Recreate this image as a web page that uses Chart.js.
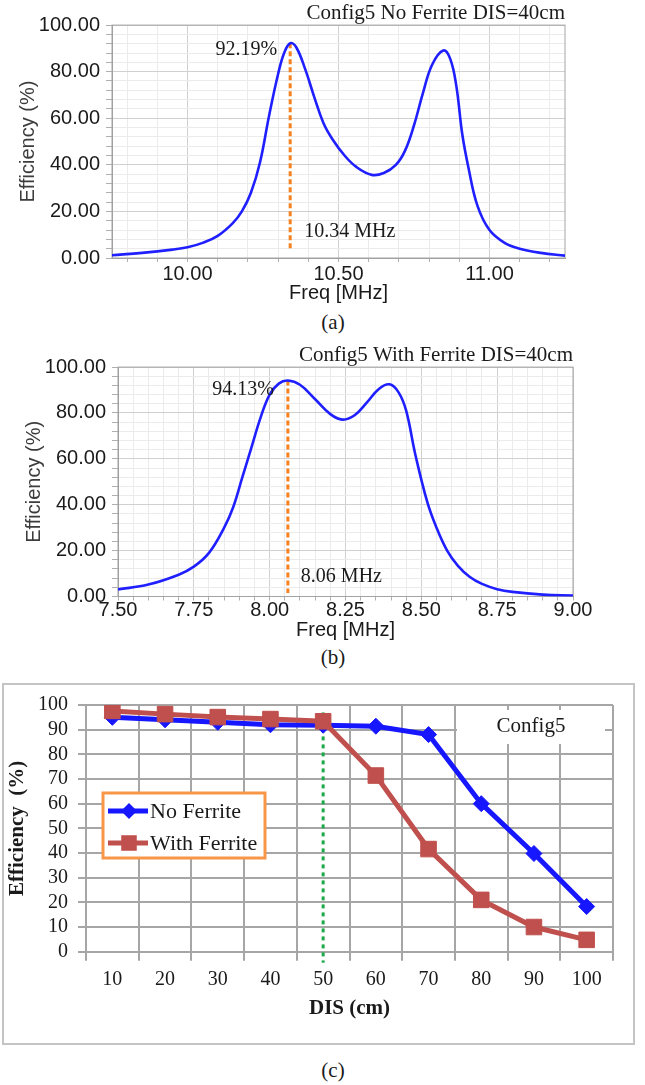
<!DOCTYPE html>
<html>
<head>
<meta charset="utf-8">
<script src="https://cdn.jsdelivr.net/npm/chart.js@4.4.1/dist/chart.umd.min.js"></script>
<style>
  body { margin: 0; background: #fff; }
  #page { position: relative; width: 645px; height: 1085px; overflow: hidden; }
  .wrap { position: absolute; left: 0; width: 645px; }
  .cap { position: absolute; left: 300px; width: 66px; text-align: center; line-height: 24px;
         font: 21px "Liberation Serif", "Times New Roman", serif; color: #1a1a1a; }
  #boxC { position: absolute; left: 2px; top: 683px; width: 633px; height: 362px;
          border: 2px solid #c4c4c4; box-sizing: border-box; }
</style>
</head>
<body>
<div id="page">
  <div class="wrap" style="top:2px;height:308px"><canvas id="chartA"></canvas></div>
  <div class="cap" style="top:310px">(a)</div>

  <div class="wrap" style="top:344px;height:301px"><canvas id="chartB"></canvas></div>
  <div class="cap" style="top:645px">(b)</div>

  <div id="boxC"></div>
  <div class="wrap" style="top:683px;height:362px"><canvas id="chartC"></canvas></div>
  <div class="cap" style="top:1058px">(c)</div>
</div>

<script>
// ---- (a) Config5, no ferrite, DIS = 40 cm ----
const FREQ_A = [9.75, 9.85, 9.95, 10.00, 10.05, 10.10, 10.15, 10.18, 10.21, 10.24, 10.27, 10.30, 10.32, 10.34,
                10.36, 10.39, 10.42, 10.45, 10.48, 10.52, 10.56, 10.61, 10.65, 10.69, 10.72, 10.75, 10.78, 10.81,
                10.847, 10.87, 10.89, 10.91, 10.93, 10.96, 11.00, 11.05, 11.10, 11.17, 11.25];
const EFF_A = [1.2, 2.2, 3.6, 4.6, 6.5, 9.5, 15, 20, 28, 41, 61, 79, 88, 92.19,
               90.5, 81, 69, 58, 51, 44, 39, 35.7, 36.5, 40, 46, 57, 71, 83,
               89.1, 85.5, 74, 53, 39, 22.5, 12, 6.5, 4, 2.2, 1];
const PEAK_A = [10.34, 92.19];
const MARK_END_A = 3;
const X_LABELS_A = [10.00, 10.50, 11.00];

// ---- (b) Config5, with ferrite, DIS = 40 cm ----
const FREQ_B = [7.50, 7.60, 7.70, 7.75, 7.80, 7.85, 7.88, 7.91, 7.94, 7.97, 8.00, 8.03, 8.06, 8.10, 8.15,
                8.20, 8.24, 8.28, 8.32, 8.36, 8.395, 8.425, 8.45, 8.48, 8.52, 8.55, 8.585, 8.62, 8.66,
                8.70, 8.75, 8.80, 8.90, 9.00];
const EFF_B = [3.1, 5.2, 9.5, 13, 19, 30, 39, 52, 65, 78, 88, 92.8, 94.13, 92.3, 86,
               79.5, 77.1, 79, 84.5, 90.5, 92.5, 89, 81, 62, 41, 30, 20, 13.5, 8.5,
               5.5, 3.2, 2, 0.8, 0.4];
const PEAK_B = [8.06, 94.13];
const MARK_END_B = 1.5;
const X_LABELS_B = [7.50, 7.75, 8.00, 8.25, 8.50, 8.75, 9.00];

const Y_LABELS_AB = [0, 20, 40, 60, 80, 100];

// ---- (c) efficiency vs distance ----
const DIS = ['10', '20', '30', '40', '50', '60', '70', '80', '90', '100'];
const NO_FERRITE = [95, 94, 93, 92, 91.8, 91.4, 88, 60, 39.8, 18.3];
const WITH_FERRITE = [97.6, 96.3, 95.1, 94.3, 93.4, 71.4, 41.6, 21, 10, 4.8];
const MARK_DIS = '50';

const SANS = '"Liberation Sans", Arial, sans-serif';
const SERIF = '"Liberation Serif", "Times New Roman", serif';

// grid positions between min and max
function steps(min, max, step) {
    const out = [];
    for (let v = min; v <= max + 1e-9; v += step) out.push(+v.toFixed(4));
    return out;
}
const near = (list, v) => list.some(t => Math.abs(t - v) < 1e-6);

// thin frame around the plot area
const frame = {
    id: 'frame',
    beforeDatasetsDraw(chart) {
        const {ctx, chartArea: a} = chart;
        ctx.save();
        ctx.strokeStyle = '#a4a4a4';
        ctx.lineWidth = 1;
        ctx.strokeRect(a.left, a.top, a.width, a.height);
        ctx.restore();
    }
};

// "92.19%" and "10.34 MHz" next to the marker
const peakText = {
    id: 'peakText',
    afterDatasetsDraw(chart, args, opts) {
        const {ctx, chartArea, scales: {x, y}} = chart;
        const px = x.getPixelForValue(opts.peak[0]);
        const py = y.getPixelForValue(opts.peak[1]);
        ctx.save();
        ctx.font = '20px ' + SERIF;
        ctx.fillStyle = '#1a1a1a';
        ctx.textBaseline = 'middle';
        ctx.textAlign = 'right';
        ctx.fillText(opts.peak[1].toFixed(2) + '%', px - opts.pctDx, py + opts.pctDy);
        ctx.textAlign = 'left';
        ctx.fillText(opts.peak[0].toFixed(2) + ' MHz', px + opts.mhzDx, chartArea.bottom - opts.mhzUp);
        ctx.restore();
    }
};

const freqChart = (id, cfg) => {
    const curve = cfg.freq.map((f, i) => ({x: f, y: cfg.eff[i]}));
    const marker = [{x: cfg.peak[0], y: cfg.peak[1]}, {x: cfg.peak[0], y: cfg.markEnd}];
    const yGrid = steps(0, 100, 4);

    return new Chart(document.getElementById(id), {
        type: 'line',
        data: {
            datasets: [{
                data: curve,
                borderColor: '#1f1fff',
                borderWidth: 2.6,
                pointRadius: 0,
                tension: 0.4,
                order: 0
            }, {
                data: marker,
                borderColor: '#f5821f',
                borderWidth: 3,
                borderDash: [5, 3],
                pointRadius: 0,
                order: 1
            }]
        },
        options: {
            responsive: true,
            maintainAspectRatio: false,
            animation: false,
            layout: {padding: {left: 0, right: cfg.padRight, top: 0, bottom: 0}},
            plugins: {
                legend: {display: false},
                tooltip: {enabled: false},
                title: {
                    display: true,
                    text: cfg.title,
                    align: 'end',
                    color: '#1a1a1a',
                    padding: 0,
                    font: {family: SERIF, size: 21, weight: 'normal', lineHeight: 1.1}
                },
                peakText: cfg.peakText
            },
            scales: {
                x: {
                    type: 'linear',
                    min: cfg.xMin,
                    max: cfg.xMax,
                    afterBuildTicks: s => { s.ticks = cfg.xGrid.map(v => ({value: v})); },
                    afterFit: s => { s.height = cfg.xHeight; },
                    ticks: {
                        autoSkip: false,
                        maxRotation: 0,
                        padding: cfg.xTickPad,
                        color: '#1a1a1a',
                        font: {family: SANS, size: 20},
                        callback: v => near(cfg.xLabels, v) ? v.toFixed(2) : ''
                    },
                    grid: {
                        color: c => (c.tick && near(cfg.xLabels, c.tick.value)) ? '#d0d0d0' : '#ebebeb',
                        tickLength: 4,
                        tickColor: '#b0b0b0'
                    },
                    border: {color: '#9c9c9c'},
                    title: {
                        display: true,
                        text: 'Freq [MHz]',
                        color: '#1a1a1a',
                        font: {family: SANS, size: 20},
                        padding: {top: 0, bottom: cfg.xTitlePad}
                    }
                },
                y: {
                    min: 0,
                    max: 100,
                    afterBuildTicks: s => { s.ticks = yGrid.map(v => ({value: v})); },
                    afterFit: s => { s.width = cfg.yWidth; },
                    ticks: {
                        autoSkip: false,
                        padding: 6,
                        color: '#1a1a1a',
                        font: {family: SANS, size: 20},
                        callback: v => near(Y_LABELS_AB, v) ? v.toFixed(2) : ''
                    },
                    grid: {
                        color: c => (c.tick && near(Y_LABELS_AB, c.tick.value)) ? '#d0d0d0' : '#ebebeb',
                        tickLength: 6,
                        tickColor: '#b0b0b0'
                    },
                    border: {color: '#9c9c9c'},
                    title: {
                        display: true,
                        text: 'Efficiency (%)',
                        color: '#3c3c3c',
                        font: {family: SANS, size: 20},
                        padding: {top: cfg.yTitlePad, bottom: 0}
                    }
                }
            }
        },
        plugins: [frame, peakText]
    });
};

freqChart('chartA', {
    title: 'Config5 No Ferrite DIS=40cm',
    freq: FREQ_A, eff: EFF_A, peak: PEAK_A, markEnd: MARK_END_A,
    xMin: 9.75, xMax: 11.25, xGrid: steps(9.8, 11.2, 0.1), xLabels: X_LABELS_A,
    padRight: 80, xHeight: 52, xTickPad: 0, xTitlePad: 5, yWidth: 112, yTitlePad: 16,
    peakText: {peak: PEAK_A, pctDx: 13, pctDy: 6, mhzDx: 14, mhzUp: 26}
});

freqChart('chartB', {
    title: 'Config5 With Ferrite DIS=40cm',
    freq: FREQ_B, eff: EFF_B, peak: PEAK_B, markEnd: MARK_END_B,
    xMin: 7.5, xMax: 9.0, xGrid: steps(7.5, 9.0, 0.05), xLabels: X_LABELS_B,
    padRight: 72, xHeight: 48.5, xTickPad: -2.5, xTitlePad: 3, yWidth: 118, yTitlePad: 22,
    peakText: {peak: PEAK_B, pctDx: 14, pctDy: 9, mhzDx: 13, mhzUp: 20}
});

// ---- (c) ----
const BLUE = '#1616ff';
const RED = '#c0504d';
const GRID_C = '#a6a6a6';

// white tag with "Config5" in the upper right of the grid
const configTag = {
    id: 'configTag',
    beforeDatasetsDraw(chart) {
        const {ctx, chartArea: a} = chart;
        ctx.save();
        ctx.fillStyle = '#fff';
        ctx.fillRect(a.right - 156, a.top + 5, 148, 34);
        ctx.font = '21px ' + SERIF;
        ctx.fillStyle = '#1a1a1a';
        ctx.textAlign = 'center';
        ctx.textBaseline = 'middle';
        ctx.fillText('Config5', a.right - 82, a.top + 21);
        ctx.restore();
    }
};

// green dotted line at the 50 cm mark
const markLine = {
    id: 'markLine',
    beforeDatasetsDraw(chart) {
        const {ctx, chartArea: a, scales: {x, y}} = chart;
        const px = x.getPixelForValue(DIS.indexOf(MARK_DIS));
        ctx.save();
        ctx.strokeStyle = '#1ea84a';
        ctx.lineWidth = 3;
        ctx.setLineDash([4, 4]);
        ctx.beginPath();
        ctx.moveTo(px, y.getPixelForValue(97));
        ctx.lineTo(px, a.bottom + 11);
        ctx.stroke();
        ctx.restore();
    }
};

// legend box with orange border
const legendBox = {
    id: 'legendBox',
    afterDraw(chart) {
        const {ctx, chartArea: a} = chart;
        const L = a.left + 17, T = a.top + 88, W = 162, H = 65;
        ctx.save();
        ctx.fillStyle = '#fff';
        ctx.fillRect(L, T, W, H);
        ctx.strokeStyle = '#f79646';
        ctx.lineWidth = 3;
        ctx.strokeRect(L, T, W, H);
        chart.data.datasets.forEach((ds, i) => {
            const y = T + 18 + i * 32;
            const mx = L + 26;
            ctx.strokeStyle = ds.borderColor;
            ctx.fillStyle = ds.borderColor;
            ctx.lineWidth = ds.borderWidth;
            ctx.beginPath();
            ctx.moveTo(L + 5, y);
            ctx.lineTo(L + 45, y);
            ctx.stroke();
            ctx.beginPath();
            if (ds.pointStyle === 'rectRot') {
                const r = ds.pointRadius;
                ctx.moveTo(mx - r, y);
                ctx.lineTo(mx, y - r);
                ctx.lineTo(mx + r, y);
                ctx.lineTo(mx, y + r);
                ctx.closePath();
            } else {
                const s = ds.pointRadius * Math.SQRT1_2;
                ctx.rect(mx - s, y - s, 2 * s, 2 * s);
            }
            ctx.fill();
            ctx.fillStyle = '#1a1a1a';
            ctx.font = '22px ' + SERIF;
            ctx.textAlign = 'left';
            ctx.textBaseline = 'middle';
            ctx.fillText(ds.label, L + 47, y + 1);
        });
        ctx.restore();
    }
};

new Chart(document.getElementById('chartC'), {
    type: 'line',
    data: {
        labels: DIS,
        datasets: [{
            label: 'No Ferrite',
            data: NO_FERRITE,
            borderColor: BLUE,
            backgroundColor: BLUE,
            borderWidth: 5,
            pointStyle: 'rectRot',
            pointRadius: 8,
            pointBorderWidth: 1,
            order: 1
        }, {
            label: 'With Ferrite',
            data: WITH_FERRITE,
            borderColor: RED,
            backgroundColor: RED,
            borderWidth: 5,
            pointStyle: 'rect',
            pointRadius: 11,
            pointBorderWidth: 1,
            order: 0
        }]
    },
    options: {
        responsive: true,
        maintainAspectRatio: false,
        animation: false,
        layout: {padding: {left: 0, right: 32, top: 18.7, bottom: 0}},
        plugins: {
            legend: {display: false},
            tooltip: {enabled: false}
        },
        scales: {
            x: {
                offset: true,
                afterFit: s => { s.height = 93.3; },
                ticks: {
                    autoSkip: false,
                    maxRotation: 0,
                    padding: 7,
                    color: '#1a1a1a',
                    font: {family: SERIF, size: 20}
                },
                grid: {offset: true, color: GRID_C, lineWidth: 2, tickLength: 9, tickColor: GRID_C},
                border: {color: GRID_C, width: 2},
                title: {
                    display: true,
                    text: 'DIS (cm)',
                    color: '#1a1a1a',
                    font: {family: SERIF, size: 21, weight: 'bold'},
                    padding: {top: 0, bottom: 23.4}
                }
            },
            y: {
                min: 0,
                max: 100,
                afterFit: s => { s.width = 86; },
                ticks: {
                    stepSize: 10,
                    autoSkip: false,
                    padding: 10,
                    color: '#1a1a1a',
                    font: {family: SERIF, size: 20}
                },
                grid: {color: GRID_C, lineWidth: 2, tickLength: 8, tickColor: GRID_C},
                border: {color: GRID_C, width: 2},
                title: {
                    display: true,
                    text: 'Efficiency  (%)',
                    color: '#1a1a1a',
                    font: {family: SERIF, size: 21, weight: 'bold'},
                    padding: {top: 5, bottom: 0}
                }
            }
        }
    },
    plugins: [configTag, markLine, legendBox]
});
</script>
</body>
</html>
